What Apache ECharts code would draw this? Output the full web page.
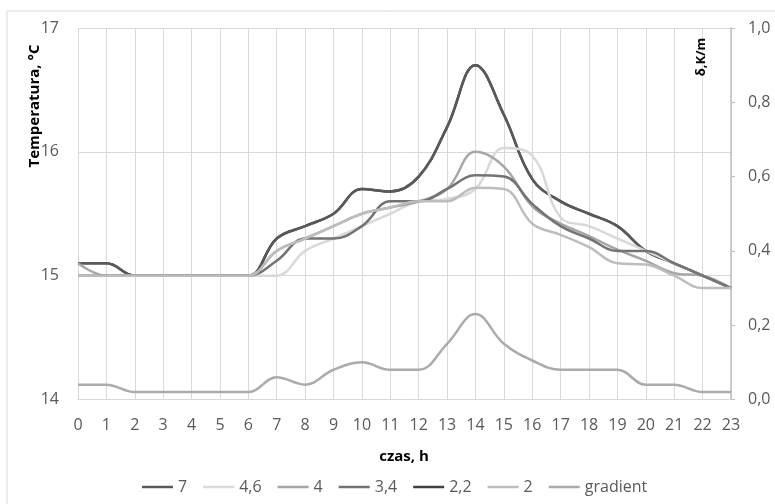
<!DOCTYPE html>
<html><head><meta charset="utf-8">
<script src="https://cdn.jsdelivr.net/npm/echarts@6/dist/echarts.min.js"></script>
<style>html,body{margin:0;padding:0;background:#fff}#c{width:775px;height:504px}</style>
</head><body><div id="c"></div>
<script>
const hours = ['0','1','2','3','4','5','6','7','8','9','10','11','12','13','14','15','16','17','18','19','20','21','22','23'];
const names = ['7','4,6','4','3,4','2,2','2','gradient'];
const s7   = [15.1,15.1,15.0,15.0,15.0,15.0,15.0,15.3,15.4,15.5,15.7,15.68,15.8,16.2,16.7,16.3,15.78,15.6,15.5,15.4,15.2,15.1,15.0,14.9];
const s46  = [15.0,15.0,15.0,15.0,15.0,15.0,15.0,15.0,15.2,15.3,15.4,15.5,15.6,15.62,15.7,16.03,15.97,15.47,15.4,15.3,15.2,15.1,15.0,14.9];
const s4   = [15.1,15.0,15.0,15.0,15.0,15.0,15.0,15.2,15.3,15.4,15.5,15.55,15.6,15.7,16.0,15.88,15.56,15.42,15.32,15.21,15.12,15.02,15.0,14.9];
const s34  = [15.0,15.0,15.0,15.0,15.0,15.0,15.0,15.12,15.3,15.3,15.4,15.6,15.6,15.7,15.81,15.8,15.58,15.4,15.3,15.2,15.2,15.1,15.0,14.9];
const s22  = [15.1,15.1,15.0,15.0,15.0,15.0,15.0,15.3,15.4,15.5,15.7,15.68,15.8,16.2,16.7,16.3,15.78,15.6,15.5,15.4,15.2,15.1,15.0,14.9];
const s2   = [15.0,15.0,15.0,15.0,15.0,15.0,15.0,15.2,15.3,15.4,15.5,15.55,15.6,15.6,15.71,15.7,15.42,15.33,15.23,15.1,15.09,15.0,14.9,14.9];
const grad = [0.04,0.04,0.02,0.02,0.02,0.02,0.02,0.06,0.04,0.08,0.10,0.08,0.08,0.15,0.23,0.15,0.105,0.08,0.08,0.08,0.04,0.04,0.02,0.02];
const leftTicks = [14,15,16,17];
const rightTicks = [0,0.2,0.4,0.6,0.8,1.0];

const colors = ['#595959','#d9d9d9','#a6a6a6','#737373','#404040','#bdbdbd','#ababab'];
const dataSets = [s7,s46,s4,s34,s22,s2,grad];
const FONT = 'Open Sans';

const series = names.map((n,i)=>({
  name:n, type:'line', data:dataSets[i], smooth:0.4, showSymbol:false, symbol:'none',
  yAxisIndex: n==='gradient'?1:0,
  z: n==='2,2'?1:2,
  lineStyle:{width:2.5,color:colors[i]}, itemStyle:{color:colors[i]}
}));

const chart = echarts.init(document.getElementById('c'));
chart.setOption({
  animation:false,
  backgroundColor:'#fff',
  textStyle:{fontFamily:FONT},
  grid:{left:78,right:44,top:28,bottom:104.5,containLabel:false,outerBoundsMode:'none'},
  xAxis:{type:'category',data:hours,boundaryGap:false,
    axisLine:{show:true,lineStyle:{color:'#d9d9d9',width:1}},
    axisTick:{show:false},
    axisLabel:{color:'#595959',fontSize:16,fontFamily:FONT,margin:18,interval:0},
    splitLine:{show:true,lineStyle:{color:'#d9d9d9',width:1}}},
  yAxis:[
    {type:'value',min:leftTicks[0],max:leftTicks[leftTicks.length-1],interval:1,
      axisLine:{show:false},axisTick:{show:false},
      axisLabel:{color:'#595959',fontSize:16,fontFamily:FONT,margin:19},
      splitLine:{show:true,lineStyle:{color:'#d9d9d9',width:1}}},
    {type:'value',position:'right',min:rightTicks[0],max:rightTicks[rightTicks.length-1],interval:0.2,
      axisLine:{show:true,lineStyle:{color:'#bfbfbf',width:1.5}},
      axisTick:{show:true,length:4,lineStyle:{color:'#bfbfbf'}},
      axisLabel:{color:'#595959',fontSize:16,fontFamily:FONT,margin:17,
        formatter:v=>v.toFixed(1).replace('.',',')},
      splitLine:{show:false}}
  ],
  legend:{data:names,left:137,top:474,icon:'rect',itemWidth:31,itemHeight:2.5,itemGap:16,
    textStyle:{color:'#595959',fontSize:16,fontFamily:FONT}},
  graphic:[
    {type:'rect',shape:{x:7,y:11,width:820,height:600},style:{fill:'none',stroke:'#d9d9d9',lineWidth:1},silent:true,z:-1},
    {type:'text',x:35,y:106,rotation:Math.PI/2,style:{text:'Temperatura, °C',font:'bold 15px "Open Sans"',fill:'#000',textAlign:'center',textVerticalAlign:'middle'}},
    {type:'text',x:701,y:57,rotation:Math.PI/2,style:{text:'δ,K/m',font:'bold 13px "Open Sans"',fill:'#000',textAlign:'center',textVerticalAlign:'middle'},z:100},
    {type:'text',x:404,y:457,style:{text:'czas, h',font:'bold 15px "Open Sans"',fill:'#000',textAlign:'center',textVerticalAlign:'middle'}}
  ],
  series:series
});
</script></body></html>
